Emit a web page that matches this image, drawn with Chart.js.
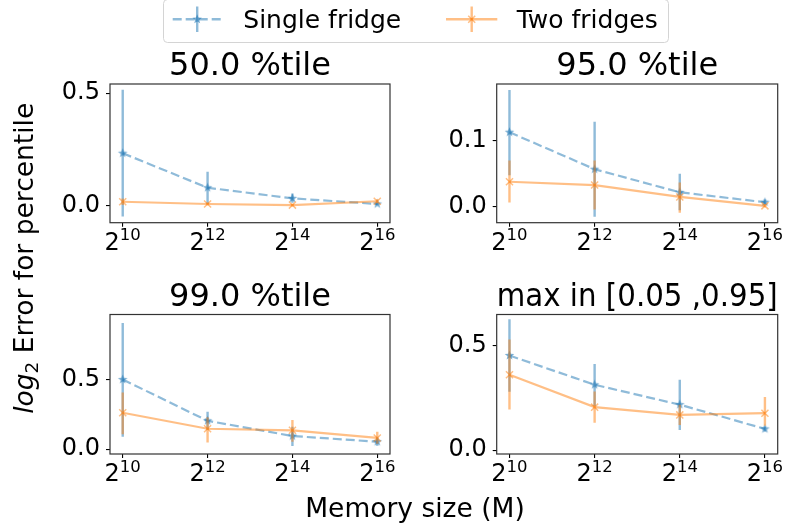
<!DOCTYPE html>
<html>
<head>
<meta charset="utf-8">
<script src="https://cdn.jsdelivr.net/npm/chart.js@4.4.1/dist/chart.umd.min.js"></script>
<style>
html, body { margin: 0; padding: 0; background: #fff; }
#wrap { position: relative; width: 793px; height: 525px; overflow: hidden; }
#wrap canvas { position: absolute; left: 0; top: 0; }
#overlay { position: absolute; left: 0; top: 0; pointer-events: none; }
</style>
</head>
<body>
<div id="wrap">
  <canvas id="c50" width="793" height="525"></canvas>
  <canvas id="c95" width="793" height="525"></canvas>
  <canvas id="c99" width="793" height="525"></canvas>
  <canvas id="cmax" width="793" height="525"></canvas>
  <svg id="overlay" width="793" height="525" font-family="DejaVu Sans">
    <rect x="163.5" y="-0.5" width="505" height="43" rx="4" fill="#fff" fill-opacity="0.8" stroke="#d4d4d4" stroke-width="1"/>
    <g stroke="rgba(31,119,180,0.5)" stroke-width="2.4" fill="none">
      <line x1="172.7" y1="19.3" x2="221.7" y2="19.3" stroke-dasharray="9 4"/>
      <line x1="197.2" y1="6.5" x2="197.2" y2="32"/>
    </g>
    <polygon transform="translate(197.2,19.3)" fill="rgba(31,119,180,0.6)"
      points="0,-5 1.23,-1.7 4.76,-1.55 2,0.65 2.94,4.05 0,2.1 -2.94,4.05 -2,0.65 -4.76,-1.55 -1.23,-1.7"/>
    <text x="243.3" y="28.3" font-size="25" fill="#000">Single fridge</text>
    <g stroke="rgba(255,127,14,0.5)" stroke-width="2.4" fill="none">
      <line x1="446" y1="19.3" x2="497.3" y2="19.3"/>
      <line x1="471.7" y1="6.5" x2="471.7" y2="32"/>
      <line x1="468.2" y1="15.8" x2="475.2" y2="22.8" stroke-width="1.5"/>
      <line x1="468.2" y1="22.8" x2="475.2" y2="15.8" stroke-width="1.5"/>
    </g>
    <text x="516.7" y="28.3" font-size="25" fill="#000">Two fridges</text>
    <text x="415" y="516.7" font-size="26.5" text-anchor="middle" fill="#000">Memory size (M)</text>
    <text transform="translate(32.5,258.3) rotate(-90)" font-size="26.5" text-anchor="middle" fill="#000"><tspan font-style="italic">log</tspan><tspan font-size="18.5" dy="5">2</tspan><tspan dy="-5"> Error for percentile</tspan></text>
  </svg>
</div>
<script>
// memory size exponents (2^k)
const memExp = [10, 12, 14, 16];
const xTicks = [10, 12, 14, 16];

// 50.0 %tile
const p50Single   = [0.234, 0.081, 0.034, 0.009];
const p50SingleLo = [-0.047, 0.010, 0.015, 0.003];
const p50SingleHi = [0.515, 0.152, 0.056, 0.016];
const p50Two      = [0.019, 0.009, 0.004, 0.021];
const p50TwoLo    = [0.005, 0.002, -0.002, 0.012];
const p50TwoHi    = [0.033, 0.016, 0.010, 0.030];
const p50YTicks   = [0.0, 0.5];

// 95.0 %tile
const p95Single   = [0.113, 0.057, 0.022, 0.007];
const p95SingleLo = [0.048, -0.015, -0.005, 0.003];
const p95SingleHi = [0.177, 0.129, 0.050, 0.011];
const p95Two      = [0.038, 0.033, 0.015, 0.0015];
const p95TwoLo    = [0.0065, -0.004, -0.009, -0.001];
const p95TwoHi    = [0.070, 0.070, 0.037, 0.004];
const p95YTicks   = [0.0, 0.1];

// 99.0 %tile
const p99Single   = [0.500, 0.204, 0.095, 0.054];
const p99SingleLo = [0.090, 0.140, 0.024, 0.025];
const p99SingleHi = [0.905, 0.269, 0.161, 0.084];
const p99Two      = [0.262, 0.147, 0.136, 0.081];
const p99TwoLo    = [0.107, 0.048, 0.054, 0.040];
const p99TwoHi    = [0.407, 0.229, 0.209, 0.126];
const p99YTicks   = [0.0, 0.5];

// max in [0.05, 0.95]
const maxSingle   = [0.453, 0.313, 0.218, 0.102];
const maxSingleLo = [0.280, 0.212, 0.097, 0.090];
const maxSingleHi = [0.626, 0.412, 0.337, 0.114];
const maxTwo      = [0.361, 0.206, 0.169, 0.177];
const maxTwoLo    = [0.195, 0.132, 0.121, 0.117];
const maxTwoHi    = [0.529, 0.281, 0.218, 0.254];
const maxYTicks   = [0.0, 0.5];

const FONT = "'DejaVu Sans'";
const BLUE = "rgba(31,119,180,0.5)";
const ORANGE = "rgba(255,127,14,0.5)";
const Y_AXIS_W = 90;

function starImage(color) {
    const c = document.createElement("canvas");
    c.width = 11; c.height = 11;
    const g = c.getContext("2d");
    g.beginPath();
    for (let k = 0; k < 10; k++) {
        const r = k % 2 ? 2.1 : 5;
        const a = -Math.PI / 2 + k * Math.PI / 5;
        g.lineTo(5.5 + r * Math.cos(a), 5.5 + r * Math.sin(a));
    }
    g.closePath();
    g.fillStyle = color;
    g.fill();
    return c;
}
const star = starImage("rgba(31,119,180,0.6)");

/* vertical error bars, drawn under each dataset's line */
const errorBars = {
    id: "errorBars",
    beforeDatasetDraw(chart, args) {
        const ds = chart.data.datasets[args.index];
        if (!ds.errLo) return;
        const { ctx, chartArea: a } = chart;
        const xs = chart.scales.x, ys = chart.scales.y;
        ctx.save();
        ctx.beginPath();
        ctx.rect(a.left, a.top, a.right - a.left, a.bottom - a.top);
        ctx.clip();
        ctx.strokeStyle = ds.borderColor;
        ctx.lineWidth = 2.4;
        ds.data.forEach((p, i) => {
            const px = xs.getPixelForValue(p.x);
            ctx.beginPath();
            ctx.moveTo(px, ys.getPixelForValue(ds.errLo[i]));
            ctx.lineTo(px, ys.getPixelForValue(ds.errHi[i]));
            ctx.stroke();
        });
        ctx.restore();
    }
};

/* box frame + 2^k tick labels */
const frameAndPow = {
    id: "frameAndPow",
    afterDraw(chart) {
        const { ctx, chartArea: a } = chart;
        ctx.save();
        ctx.strokeStyle = "#333";
        ctx.lineWidth = 1.2;
        ctx.strokeRect(a.left, a.top, a.right - a.left, a.bottom - a.top);
        const xs = chart.scales.x;
        ctx.fillStyle = "#000";
        ctx.textBaseline = "alphabetic";
        ctx.textAlign = "left";
        xs.ticks.forEach(t => {
            const px = xs.getPixelForValue(t.value);
            const exp = String(t.value);
            ctx.font = "24px " + FONT;
            const wBase = ctx.measureText("2").width;
            ctx.font = "16.5px " + FONT;
            const wExp = ctx.measureText(exp).width;
            const x0 = px - (wBase + wExp) / 2;
            ctx.font = "24px " + FONT;
            ctx.fillText("2", x0, a.bottom + 27);
            ctx.font = "16.5px " + FONT;
            ctx.fillText(exp, x0 + wBase, a.bottom + 17.5);
        });
        ctx.restore();
    }
};

function drawPanel(id, box, title, yMin, yMax, yTicks, single, sLo, sHi, two, tLo, tHi) {
    const ctx = document.getElementById(id).getContext("2d");
    return new Chart(ctx, {
        type: "line",
        data: {
            datasets: [{
                data: memExp.map((e, i) => ({ x: e, y: single[i] })),
                errLo: sLo,
                errHi: sHi,
                borderColor: BLUE,
                borderWidth: 2.2,
                borderDash: [9, 4],
                pointStyle: star,
                pointBorderWidth: 0,
                fill: false,
                order: 2
            }, {
                data: memExp.map((e, i) => ({ x: e, y: two[i] })),
                errLo: tLo,
                errHi: tHi,
                borderColor: ORANGE,
                borderWidth: 2.2,
                pointStyle: "crossRot",
                pointRadius: 5,
                pointBorderWidth: 1.5,
                pointBorderColor: ORANGE,
                fill: false,
                order: 1
            }]
        },
        options: {
            responsive: false,
            animation: false,
            layout: {
                padding: { left: box.l - Y_AXIS_W, right: 793 - box.r, top: box.t - 33, bottom: 525 - box.b }
            },
            plugins: {
                legend: { display: false },
                tooltip: { enabled: false },
                title: {
                    display: true,
                    fullSize: false,
                    text: title,
                    color: "#000",
                    font: { family: FONT, size: 32, weight: "normal", lineHeight: 1.0 },
                    padding: { top: 0, bottom: 1 }
                }
            },
            scales: {
                x: {
                    type: "linear",
                    min: 9.7,
                    max: 16.3,
                    afterBuildTicks: s => { s.ticks = xTicks.map(v => ({ value: v })); },
                    afterFit: s => { s.height = 0; },
                    ticks: { display: false },
                    grid: { drawOnChartArea: false, drawTicks: true, tickLength: 4, color: "#000", lineWidth: 1.1 },
                    border: { display: false }
                },
                y: {
                    min: yMin,
                    max: yMax,
                    afterBuildTicks: s => { s.ticks = yTicks.map(v => ({ value: v })); },
                    afterFit: s => { s.width = Y_AXIS_W; },
                    ticks: {
                        color: "#000",
                        padding: 6,
                        font: { family: FONT, size: 24 },
                        callback: v => v.toFixed(1)
                    },
                    grid: { drawOnChartArea: false, drawTicks: true, tickLength: 4, color: "#000", lineWidth: 1.1 },
                    border: { display: false }
                }
            }
        },
        plugins: [errorBars, frameAndPow]
    });
}

drawPanel("c50", { l: 110, r: 390, t: 84, b: 222.7 }, "50.0 %tile", -0.074, 0.541, p50YTicks,
    p50Single, p50SingleLo, p50SingleHi, p50Two, p50TwoLo, p50TwoHi);
drawPanel("c95", { l: 496.7, r: 777.7, t: 84, b: 222.7 }, "95.0 %tile", -0.024, 0.186, p95YTicks,
    p95Single, p95SingleLo, p95SingleHi, p95Two, p95TwoLo, p95TwoHi);
drawPanel("c99", { l: 110, r: 390, t: 314.5, b: 454 }, "99.0 %tile", -0.034, 0.966, p99YTicks,
    p99Single, p99SingleLo, p99SingleHi, p99Two, p99TwoLo, p99TwoHi);
drawPanel("cmax", { l: 496.7, r: 777.7, t: 314.5, b: 454 }, "max in [0.05 ,0.95]", -0.018, 0.649, maxYTicks,
    maxSingle, maxSingleLo, maxSingleHi, maxTwo, maxTwoLo, maxTwoHi);
</script>
</body>
</html>
